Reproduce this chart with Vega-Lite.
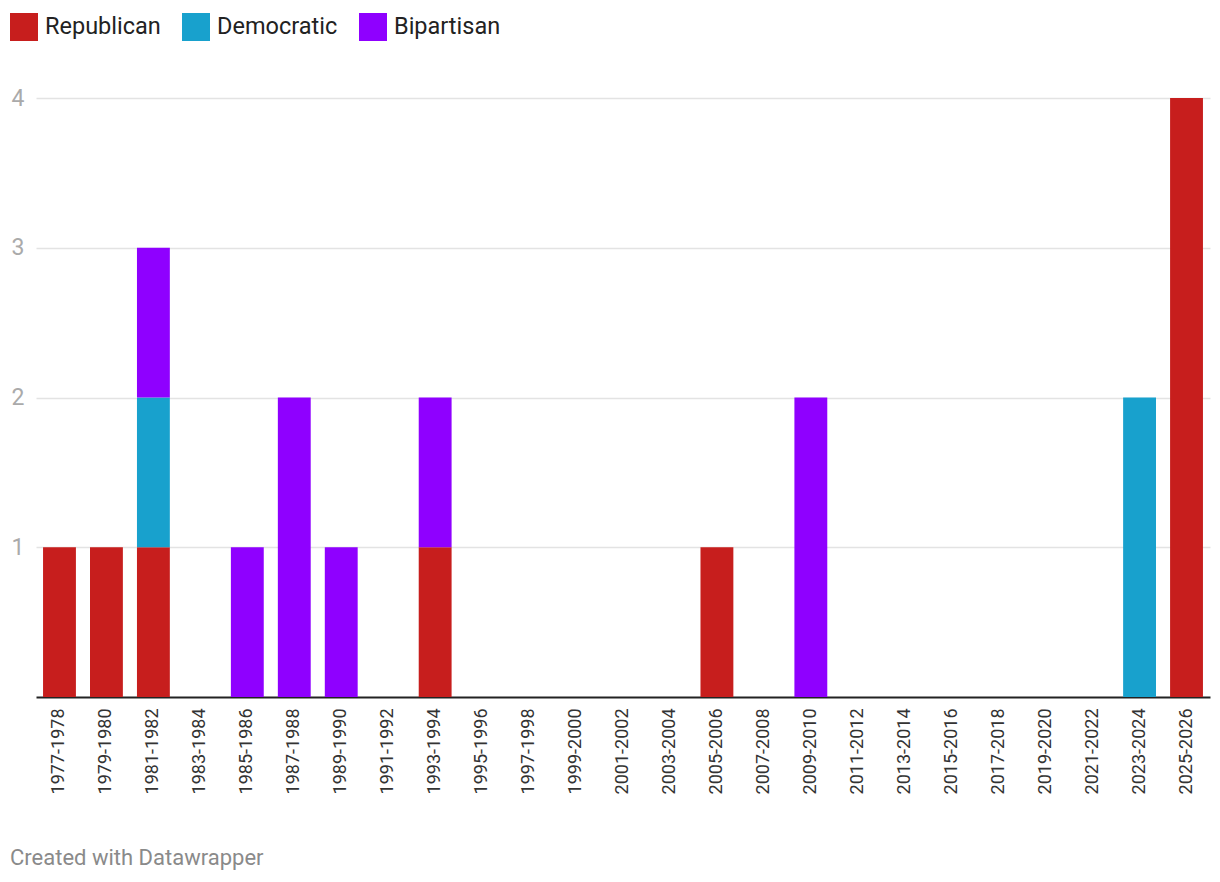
{
  "$schema": "https://vega.github.io/schema/vega-lite/v6.json",
  "width": 1174,
  "height": 599,
  "autosize": {"type": "none"},
  "padding": {"left": 36, "top": 98, "right": 10, "bottom": 185},
  "background": "white",
  "config": {
    "font": "Roboto",
    "view": {"stroke": null}
  },
  "title": {
    "text": "Created with Datawrapper",
    "orient": "bottom",
    "anchor": "start",
    "frame": "group",
    "dx": -26,
    "offset": 54,
    "fontSize": 22,
    "fontWeight": "normal",
    "color": "#8a8a8a",
    "font": "Roboto"
  },
  "data": {
    "values": [
      {"period": "1977-1978", "party": "Republican", "count": 1},
      {"period": "1979-1980", "party": "Republican", "count": 1},
      {"period": "1981-1982", "party": "Republican", "count": 1},
      {"period": "1981-1982", "party": "Democratic", "count": 1},
      {"period": "1981-1982", "party": "Bipartisan", "count": 1},
      {"period": "1983-1984", "party": "Republican", "count": 0},
      {"period": "1985-1986", "party": "Bipartisan", "count": 1},
      {"period": "1987-1988", "party": "Bipartisan", "count": 2},
      {"period": "1989-1990", "party": "Bipartisan", "count": 1},
      {"period": "1991-1992", "party": "Republican", "count": 0},
      {"period": "1993-1994", "party": "Republican", "count": 1},
      {"period": "1993-1994", "party": "Bipartisan", "count": 1},
      {"period": "1995-1996", "party": "Republican", "count": 0},
      {"period": "1997-1998", "party": "Republican", "count": 0},
      {"period": "1999-2000", "party": "Republican", "count": 0},
      {"period": "2001-2002", "party": "Republican", "count": 0},
      {"period": "2003-2004", "party": "Republican", "count": 0},
      {"period": "2005-2006", "party": "Republican", "count": 1},
      {"period": "2007-2008", "party": "Republican", "count": 0},
      {"period": "2009-2010", "party": "Bipartisan", "count": 2},
      {"period": "2011-2012", "party": "Republican", "count": 0},
      {"period": "2013-2014", "party": "Republican", "count": 0},
      {"period": "2015-2016", "party": "Republican", "count": 0},
      {"period": "2017-2018", "party": "Republican", "count": 0},
      {"period": "2019-2020", "party": "Republican", "count": 0},
      {"period": "2021-2022", "party": "Republican", "count": 0},
      {"period": "2023-2024", "party": "Democratic", "count": 2},
      {"period": "2025-2026", "party": "Republican", "count": 4}
    ]
  },
  "mark": {"type": "bar", "strokeWidth": 0},
  "encoding": {
    "x": {
      "field": "period",
      "type": "nominal",
      "sort": null,
      "scale": {"paddingInner": 0.3, "paddingOuter": 0.15},
      "axis": {
        "title": null,
        "labelAngle": -90,
        "labelFontSize": 18,
        "labelColor": "#333333",
        "labelPadding": 11,
        "ticks": false,
        "domainColor": "#222222",
        "domainWidth": 2,
        "labelFont": "Roboto"
      }
    },
    "y": {
      "field": "count",
      "type": "quantitative",
      "aggregate": "sum",
      "stack": "zero",
      "scale": {"domain": [0, 4], "nice": false},
      "axis": {
        "title": null,
        "values": [1, 2, 3, 4],
        "domain": false,
        "ticks": false,
        "labelFontSize": 23,
        "labelColor": "#aaaaaa",
        "labelPadding": 12,
        "gridColor": "#e3e3e3",
        "gridWidth": 1.5,
        "labelFont": "Roboto"
      }
    },
    "color": {
      "field": "party",
      "type": "nominal",
      "scale": {
        "domain": ["Republican", "Democratic", "Bipartisan"],
        "range": ["#c71e1d", "#18a1cd", "#8f00ff"]
      },
      "legend": {
        "title": null,
        "orient": "none",
        "direction": "horizontal",
        "legendX": -26,
        "legendY": -85,
        "symbolType": "square",
        "symbolSize": 784,
        "symbolStrokeWidth": 0,
        "symbolOpacity": 1,
        "labelFontSize": 23.5,
        "labelColor": "#222222",
        "labelFont": "Roboto",
        "labelOffset": 7,
        "columnPadding": 21
      }
    },
    "order": {"field": "partyOrder", "type": "quantitative"}
  }
}
